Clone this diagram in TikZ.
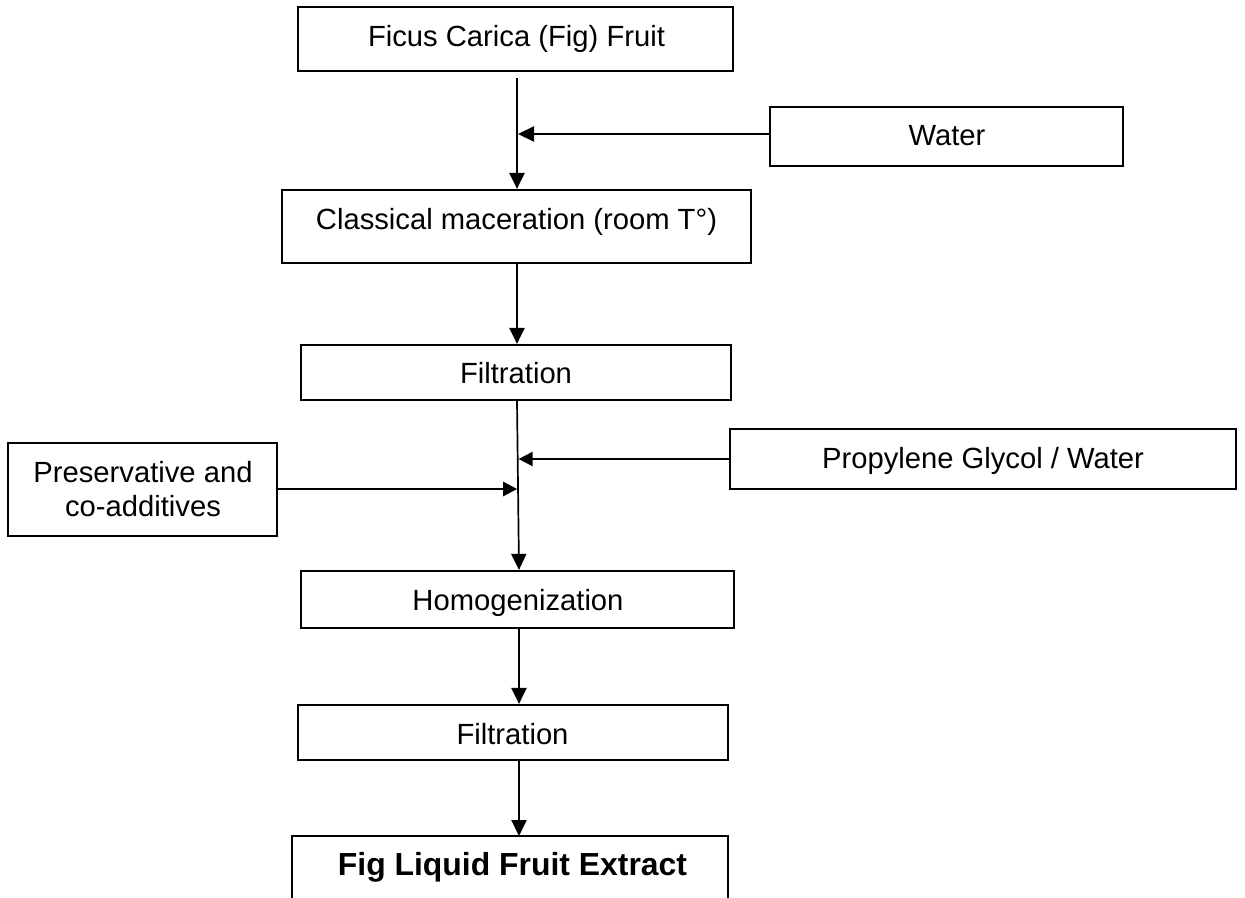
\documentclass[tikz,border=0pt]{standalone}
\usepackage{fontspec}
\setmainfont{Liberation Sans}
\usetikzlibrary{arrows.meta}
\begin{document}
\begin{tikzpicture}[x=1pt,y=-1pt,
  box/.style={draw, line width=2.2pt, inner sep=0pt},
  txt/.style={inner sep=0pt, font=\fontsize{29.2}{35}\selectfont, text height=20.9pt, text depth=0pt},
  btxt/.style={inner sep=0pt, font=\fontsize{31.9}{38}\selectfont\bfseries, text height=22.8pt, text depth=0pt},
  arr/.style={line width=2.2pt, -{Triangle[length=16pt,width=15pt]}},
  sarr/.style={line width=2.2pt, -{Triangle[length=14pt,width=14pt]}}
]
\useasboundingbox (0,0) rectangle (1245,897);

% boxes
\node[box, minimum width=435pt, minimum height=64pt] (ficus) at (515.5,39) {};
\node[box, minimum width=469pt, minimum height=73pt] (class) at (516.5,226.5) {};
\node[box, minimum width=353pt, minimum height=59pt] (water) at (946.5,136.5) {};
\node[box, minimum width=430pt, minimum height=55pt] (filt1) at (516,372.5) {};
\node[box, minimum width=269pt, minimum height=93pt] (pres) at (142.5,489.5) {};
\node[box, minimum width=506pt, minimum height=60pt] (prop) at (983,459) {};
\node[box, minimum width=433pt, minimum height=57pt] (homog) at (517.5,599.5) {};
\node[box, minimum width=430pt, minimum height=55pt] (filt2) at (513,732.5) {};
\node[inner sep=0pt, minimum width=436pt, minimum height=62pt, anchor=north] (fin) at (510,836) {};
\draw[line width=2.2pt] (fin.south west) -- (fin.north west) -- (fin.north east) -- (fin.south east);

% texts
\node[txt] (ficus-t) at (516.5,36) {Ficus Carica (Fig) Fruit};
\node[txt] (class-t) at (516.5,219) {Classical maceration (room T°)};
\node[txt] (water-t) at (947,135.5) {Water};
\node[txt] (filt1-t) at (516,373.5) {Filtration};
\node[txt] (pres-t1) at (143,472.5) {Preservative and};
\node[txt] (pres-t2) at (143,506) {co-additives};
\node[txt] (prop-t) at (983,458) {Propylene Glycol / Water};
\node[txt] (homog-t) at (518,600) {Homogenization};
\node[txt] (filt2-t) at (512.5,734) {Filtration};
\node[btxt] (fin-t) at (512.5,864) {Fig Liquid Fruit Extract};

% junction coordinates
\coordinate (j1) at (517,134);
\coordinate (top) at (517,400);
\coordinate (bot) at (519,571);
\coordinate (j2) at (518.6,459);
\coordinate (j3) at (517.2,489);
\coordinate (j4) at (519,0);

% connectors
\draw[arr] ([yshift=-6pt]ficus.south -| j1) -- (class.north -| j1);
\draw[arr] (water.west |- j1) -- ([xshift=1pt]j1);
\draw[arr] (class.south -| j1) -- (filt1.north -| j1);
\draw[line width=1.7pt, -{Triangle[length=16pt,width=15pt]}] (filt1.south -| top) -- (homog.north -| bot);
\draw[sarr] (prop.west |- j2) -- (j2);
\draw[sarr] (pres.east |- j3) -- (j3);
\draw[arr] (homog.south -| j4) -- (filt2.north -| j4);
\draw[arr] (filt2.south -| j4) -- (fin.north -| j4);
\end{tikzpicture}
\end{document}
